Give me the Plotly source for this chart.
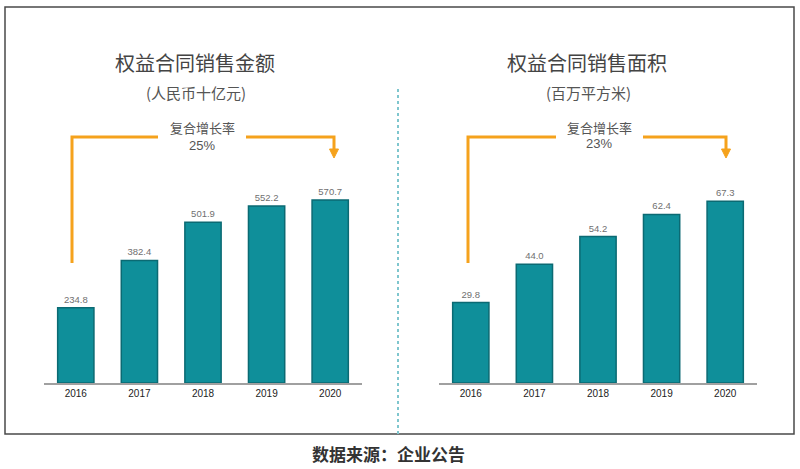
import plotly.graph_objects as go

years = ["2016", "2017", "2018", "2019", "2020"]
sales_amount = [234.8, 382.4, 501.9, 552.2, 570.7]   # 人民币十亿元
sales_area = [29.8, 44.0, 54.2, 62.4, 67.3]          # 百万平方米
amount_labels = ["234.8", "382.4", "501.9", "552.2", "570.7"]
area_labels = ["29.8", "44.0", "54.2", "62.4", "67.3"]

title_left = "权益合同销售金额"
sub_left = "(人民币十亿元)"
title_right = "权益合同销售面积"
sub_right = "(百万平方米)"
cagr_label = "复合增长率"
cagr_left = "25%"
cagr_right = "23%"
source = "数据来源：企业公告"

W, H = 800, 469
BAR = "#0F8F9A"
EDGE = "#0B6A73"
ORANGE = "#F5A21C"
CJK = "Noto Sans CJK SC"
LAT = "Liberation Sans, Arial"


def px(x, y):
    return x / W, 1 - y / H


fig = go.Figure()
fig.add_trace(go.Bar(
    x=years, y=sales_amount, text=amount_labels, textposition="outside",
    textfont=dict(family=LAT, size=9.5, color="#707070"), cliponaxis=False,
    marker=dict(color=BAR, line=dict(color=EDGE, width=1.5)), width=0.57,
    xaxis="x", yaxis="y", showlegend=False, hoverinfo="skip"))
fig.add_trace(go.Bar(
    x=years, y=sales_area, text=area_labels, textposition="outside",
    textfont=dict(family=LAT, size=9.5, color="#707070"), cliponaxis=False,
    marker=dict(color=BAR, line=dict(color=EDGE, width=1.5)), width=0.57,
    xaxis="x2", yaxis="y2", showlegend=False, hoverinfo="skip"))

y0 = 1 - 383 / H
y1 = 1 - 158 / H
xaxis_common = dict(type="category", range=[-0.5, 4.5], showline=True,
                    linecolor="#A0A0A0", linewidth=2, ticks="", showgrid=False,
                    zeroline=False, tickfont=dict(family=LAT, size=10, color="#222222"),
                    fixedrange=True)
yaxis_common = dict(visible=False, showgrid=False, zeroline=False, fixedrange=True)

fig.update_layout(
    width=W, height=H, autosize=False,
    margin=dict(l=0, r=0, t=0, b=0),
    paper_bgcolor="white", plot_bgcolor="white",
    xaxis=dict(domain=[44 / W, 362 / W], anchor="y", **xaxis_common),
    yaxis=dict(domain=[y0, y1], range=[0, 702], anchor="x", **yaxis_common),
    xaxis2=dict(domain=[439 / W, 757 / W], anchor="y2", **xaxis_common),
    yaxis2=dict(domain=[y0, y1], range=[0, 83.3], anchor="x2", **yaxis_common),
)

shapes = []
# outer frame
shapes.append(dict(type="rect", xref="paper", yref="paper",
                   x0=5 / W, x1=794 / W, y0=1 - 434 / H, y1=1 - 7 / H,
                   line=dict(color="#4a4a4a", width=1.5), fillcolor="rgba(0,0,0,0)"))
# divider
shapes.append(dict(type="line", xref="paper", yref="paper",
                   x0=398 / W, x1=398 / W, y0=1 - 434 / H, y1=1 - 86 / H,
                   line=dict(color="#7FC6CE", width=2, dash="dot")))


def bracket(xl, xgap1, xgap2, xr):
    s = []
    a = px(xl, 263); b = px(xl, 137); c = px(xgap1, 137)
    s.append(dict(type="path", xref="paper", yref="paper",
                  path=f"M {a[0]},{a[1]} L {b[0]},{b[1]} L {c[0]},{c[1]}",
                  line=dict(color=ORANGE, width=3)))
    d = px(xgap2, 137); e = px(xr, 137); f = px(xr, 150)
    s.append(dict(type="path", xref="paper", yref="paper",
                  path=f"M {d[0]},{d[1]} L {e[0]},{e[1]} L {f[0]},{f[1]}",
                  line=dict(color=ORANGE, width=3)))
    t1 = px(xr - 4.5, 149); t2 = px(xr + 4.5, 149); t3 = px(xr, 158)
    s.append(dict(type="path", xref="paper", yref="paper",
                  path=f"M {t1[0]},{t1[1]} L {t2[0]},{t2[1]} L {t3[0]},{t3[1]} Z",
                  line=dict(color=ORANGE, width=1), fillcolor=ORANGE))
    return s


shapes += bracket(72, 158, 246, 334)
shapes += bracket(468, 556, 643, 726)
fig.update_layout(shapes=shapes)


def ann(text, x, y, size, color="#555555", family=CJK):
    return dict(text=text, xref="paper", yref="paper", x=x / W, y=1 - y / H,
                xanchor="center", yanchor="middle", showarrow=False,
                font=dict(family=family, size=size, color=color))


annotations = [
    ann(title_left, 195, 63, 20, "#444444"),
    ann(sub_left, 196, 92, 15, "#555555"),
    ann(title_right, 587, 63, 20, "#444444"),
    ann(sub_right, 588, 92, 15, "#555555"),
    ann(cagr_label, 202, 127, 13),
    ann(cagr_left, 202, 145, 13, "#555555", LAT),
    ann(cagr_label, 599, 127, 13),
    ann(cagr_right, 599, 144, 13, "#555555", LAT),
    dict(text=f"<b>{source}</b>", xref="paper", yref="paper", x=388 / W, y=1 - 453 / H,
         xanchor="center", yanchor="middle", showarrow=False,
         font=dict(family=CJK, size=17, color="#333333")),
]
fig.update_layout(annotations=annotations)

fig.write_html("out.html", config={"displayModeBar": False},
               post_script="document.body.style.margin='0';document.body.style.padding='0';document.body.style.overflow='hidden';")
